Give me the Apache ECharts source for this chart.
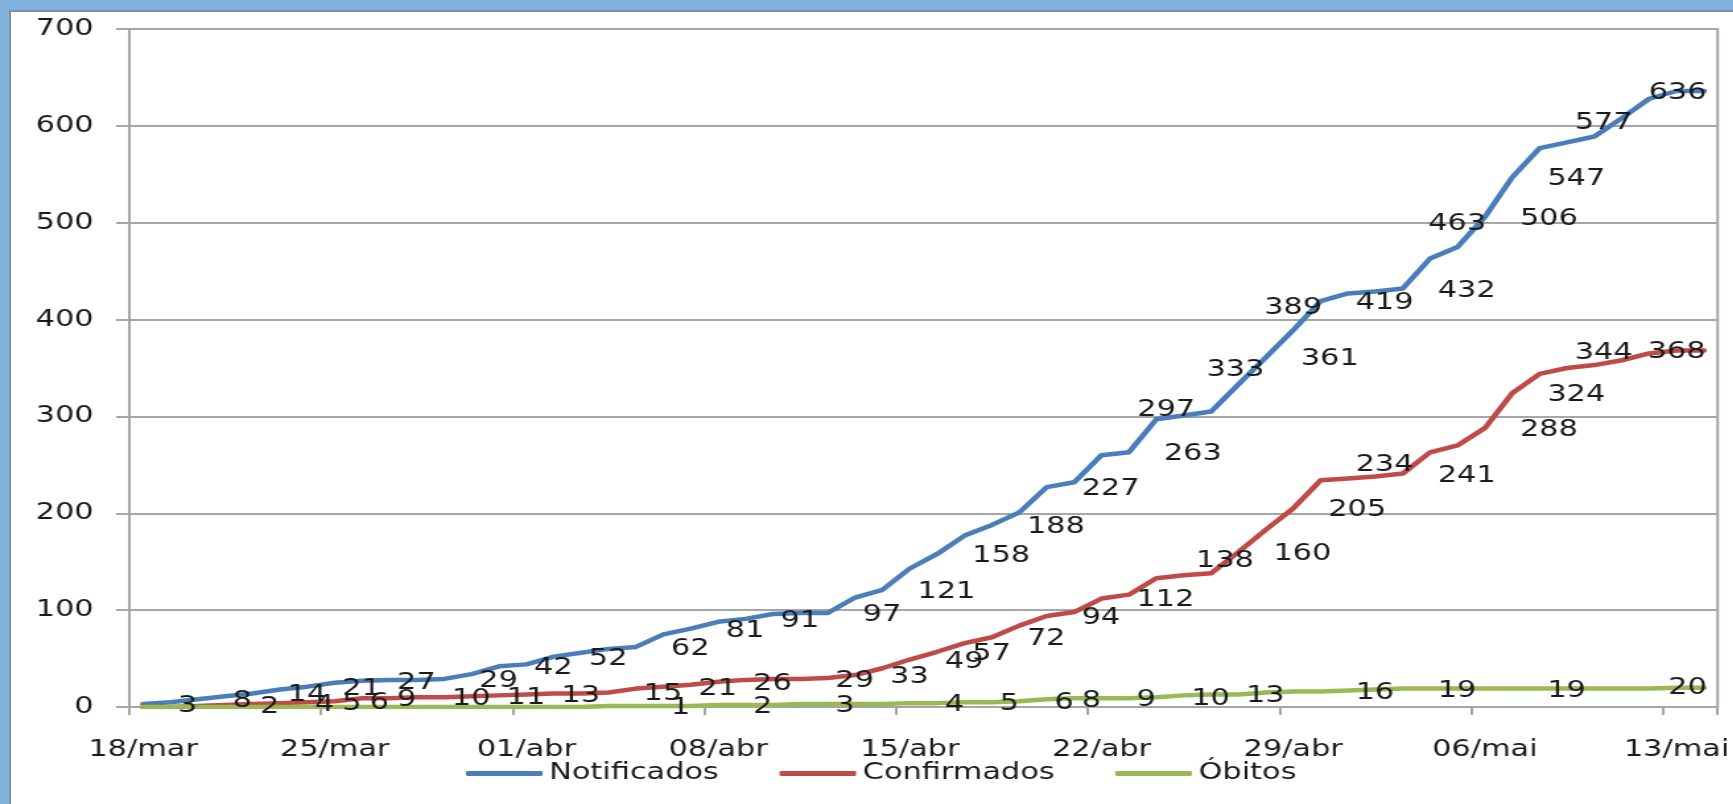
<!DOCTYPE html>
<html>
<head>
<meta charset="utf-8">
<script src="https://cdn.jsdelivr.net/npm/echarts@6/dist/echarts.min.js"></script>
<style>
  html, body { margin: 0; padding: 0; width: 1733px; height: 804px; overflow: hidden; background: #80b4de; }
  #frame { position: absolute; left: 9px; top: 10px; width: 1724px; height: 794px; background: #ffffff;
           border-top: 2px solid #7f8fa1; border-left: 2px solid #7f8fa1; box-sizing: border-box; }
  #chart { position: absolute; left: 0; top: 0; width: 1313px; height: 804px; transform-origin: 0 0; transform: scaleX(1.32); }
</style>
</head>
<body>
<div id="frame"></div>
<div id="chart"></div>
<script>
// ---- data ----
const categories = [
  "18/mar","19/mar","20/mar","21/mar","22/mar","23/mar","24/mar","25/mar","26/mar","27/mar","28/mar","29/mar","30/mar","31/mar",
  "01/abr","02/abr","03/abr","04/abr","05/abr","06/abr","07/abr","08/abr","09/abr","10/abr","11/abr","12/abr","13/abr","14/abr",
  "15/abr","16/abr","17/abr","18/abr","19/abr","20/abr","21/abr","22/abr","23/abr","24/abr","25/abr","26/abr","27/abr","28/abr",
  "29/abr","30/abr","01/mai","02/mai","03/mai","04/mai","05/mai","06/mai","07/mai","08/mai","09/mai","10/mai","11/mai","12/mai",
  "13/mai","14/mai"
];
const notificados = [
  3, 5, 8, 11, 14, 18, 21, 25, 27, 28, 28, 29, 34, 42, 44, 52, 56, 60, 62, 75,
  81, 88, 91, 96, 97, 97, 113, 121, 143, 158, 177, 188, 201, 227, 232, 260, 263, 297, 301, 305,
  333, 361, 389, 419, 427, 429, 432, 463, 475, 506, 547, 577, 583, 589, 608, 628, 636, 636
];
const confirmados = [
  0, 0, 1, 2, 3, 4, 5, 6, 9, 9, 10, 10, 11, 12, 13, 14, 14, 15, 19, 21,
  23, 26, 28, 29, 29, 30, 33, 40, 49, 57, 66, 72, 84, 94, 98, 112, 116, 133, 136, 138,
  160, 183, 205, 234, 236, 238, 241, 263, 270, 288, 324, 344, 350, 353, 358, 365, 368, 368
];
const obitos = [
  0, 0, 0, 0, 0, 0, 0, 0, 0, 0, 0, 0, 0, 0, 0, 0, 0, 1, 1, 1,
  1, 2, 2, 2, 3, 3, 3, 3, 4, 4, 5, 5, 6, 8, 9, 9, 9, 10, 12, 13,
  13, 15, 16, 16, 17, 18, 19, 19, 19, 19, 19, 19, 19, 19, 19, 19, 20, 20
];
const seriesNames = ["Notificados", "Confirmados", "Óbitos"];
const yTicks = { min: 0, max: 700, interval: 100 };
const labelInterval = 6;   // one date label every 7 days

// which points carry a value label
const notifLabelsRight = [0,2,4,6,8,11,13,15,18,20,22,25,27,29,31,33,36,41,43,46,49,50,51];
const notifLabelsCenter = [37,40,42,47,56];
const confLabelsRight = [3,5,6,7,8,10,12,14,17,19,21,24,26,28,29,31,33,35,40,42,43,46,49,50,51];
const confLabelsCenter = [39,56];
const obitLabelsRight = [18,21,24,28,30,32,33,35,37,39,43,46,50];
const obitLabelsCenter = [56];

// ---- styling (label nudges in screen px, not data) ----
const S = 1.32;              // horizontal stretch of the original picture
const FONT = "DejaVu Sans";
const TXT = "#1a1a1a";
const GRID = "#a6a6a6";
const nudges = {
  Notificados: { 37:[10,-9], 40:[-3,-14], 42:[0,-22], 47:[27,-35], 51:[0,-25], 56:[1,2] },
  Confirmados: { 39:[14,-12], 43:[0,-15], 51:[0,-21], 56:[0,1] },
  "Óbitos":    { 56:[11,0] }
};

function items(name, values, rightIdx, centerIdx) {
  const nd = nudges[name] || {};
  return values.map((v, i) => {
    const it = { value: v };
    if (rightIdx.includes(i)) {
      const n = nd[i] || [0, 2];
      it.label = { show: true, position: "right", distance: 26, offset: [n[0] / S, n[1]] };
    } else if (centerIdx.includes(i)) {
      const n = nd[i] || [0, 0];
      it.label = { show: true, position: "inside", offset: [n[0] / S, n[1]] };
    }
    return it;
  });
}

function lineSeries(name, values, color, rightIdx, centerIdx) {
  return {
    name, type: "line", data: items(name, values, rightIdx, centerIdx),
    symbol: "circle", symbolSize: 1, showSymbol: true, showAllSymbol: true,
    itemStyle: { color }, lineStyle: { color, width: 4.5, cap: "round", join: "round" },
    label: { show: false, fontFamily: FONT, fontSize: 23, color: TXT },
    emphasis: { disabled: true }, silent: true, animation: false
  };
}

const chart = echarts.init(document.getElementById("chart"), null, { width: 1313, height: 804 });
chart.setOption({
  animation: false,
  grid: { left: 98, right: 2.4, top: 29, bottom: 97, show: true, borderColor: GRID, borderWidth: 2, backgroundColor: "transparent" },
  legend: {
    data: seriesNames, left: 348, top: 757, itemWidth: 58, itemHeight: 5, itemGap: 46, icon: "roundRect",
    textStyle: { fontFamily: FONT, fontSize: 23, color: TXT }, selectedMode: false
  },
  xAxis: {
    type: "category", data: categories, boundaryGap: true,
    axisLine: { lineStyle: { color: GRID, width: 2 } },
    axisTick: { show: true, interval: labelInterval, length: 8, lineStyle: { color: GRID, width: 2 } },
    axisLabel: { interval: labelInterval, margin: 32, fontFamily: FONT, fontSize: 23, color: TXT },
    splitLine: { show: false }
  },
  yAxis: {
    type: "value", min: yTicks.min, max: yTicks.max, interval: yTicks.interval,
    axisLine: { show: true, lineStyle: { color: GRID, width: 2 } },
    axisTick: { show: true, length: 10, lineStyle: { color: GRID, width: 2 } },
    axisLabel: { margin: 27, fontFamily: FONT, fontSize: 23, color: TXT },
    splitLine: { show: true, lineStyle: { color: GRID, width: 2 } }
  },
  series: [
    lineSeries(seriesNames[0], notificados, "#4a7ebb", notifLabelsRight, notifLabelsCenter),
    lineSeries(seriesNames[1], confirmados, "#be4b48", confLabelsRight, confLabelsCenter),
    lineSeries(seriesNames[2], obitos, "#98b954", obitLabelsRight, obitLabelsCenter)
  ]
});
</script>
</body>
</html>
